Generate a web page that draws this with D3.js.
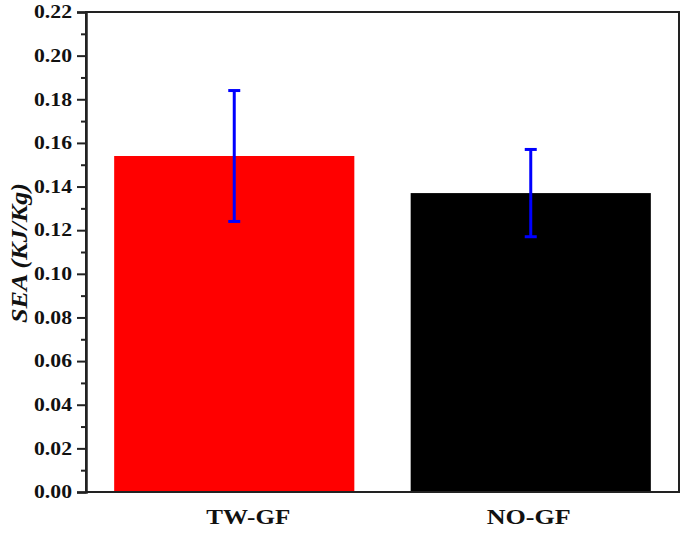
<!DOCTYPE html>
<html><head><meta charset="utf-8">
<script src="https://cdn.jsdelivr.net/npm/d3@7"></script>
<style>body{margin:0;background:#fff}svg{display:block}</style>
</head><body>
<script>
const categories = ["TW-GF", "NO-GF"];
const values = [0.154, 0.137];
const errors = [0.030, 0.020];
const barColors = ["#ff0000", "#000000"];
const yTicks = [0.00,0.02,0.04,0.06,0.08,0.10,0.12,0.14,0.16,0.18,0.20,0.22];
const yMinorTicks = [0.01,0.03,0.05,0.07,0.09,0.11,0.13,0.15,0.17,0.19,0.21];
const yTitle = "SEA (KJ/Kg)";

const W = 685, H = 537;
const m = {left: 86, top: 12, right: 6, bottom: 45};
const svg = d3.select("body").append("svg").attr("width", W).attr("height", H);
const x = d3.scaleBand().domain(categories).range([m.left, W - m.right]).paddingInner(0.19).paddingOuter(0.095);
const y = d3.scaleLinear().domain([0, 0.22]).range([H - m.bottom, m.top]);
const font = "'Liberation Serif','Times New Roman',serif";

// bars
svg.selectAll("rect.bar").data(categories).join("rect")
  .attr("x", d => x(d)).attr("width", x.bandwidth())
  .attr("y", (d,i) => y(values[i])).attr("height", (d,i) => y(0) - y(values[i]))
  .attr("fill", (d,i) => barColors[i]);

// error bars
const eb = svg.append("g").attr("stroke", "#0000ff").attr("stroke-width", 3);
categories.forEach((c,i) => {
  const cx = x(c) + x.bandwidth()/2;
  eb.append("line").attr("x1", cx).attr("x2", cx).attr("y1", y(values[i]+errors[i])).attr("y2", y(values[i]-errors[i]));
  [values[i]+errors[i], values[i]-errors[i]].forEach(v => {
    eb.append("line").attr("x1", cx-6).attr("x2", cx+6).attr("y1", y(v)).attr("y2", y(v));
  });
});

// frame
svg.append("rect").attr("x", m.left).attr("y", m.top).attr("width", W - m.right - m.left).attr("height", y(0) - m.top)
  .attr("fill", "none").attr("stroke", "#222").attr("stroke-width", 2);

// y axis
const yAxis = d3.axisLeft(y).tickValues(yTicks).tickFormat(d3.format(".2f")).tickSize(9).tickPadding(5);
const ga = svg.append("g").attr("transform", `translate(${m.left},0)`).call(yAxis);
ga.select(".domain").attr("stroke", "#222").attr("stroke-width", 2.5);
ga.selectAll(".tick line").attr("stroke", "#222").attr("stroke-width", 2);
ga.selectAll(".tick text").attr("font-family", font).attr("font-weight", "bold").attr("font-size", 18)
  .attr("fill", "#111").attr("textLength", 38).attr("lengthAdjust", "spacingAndGlyphs");
const gm = svg.append("g").attr("transform", `translate(${m.left},0)`)
  .call(d3.axisLeft(y).tickValues(yMinorTicks).tickSize(5).tickFormat(""));
gm.select(".domain").remove();
gm.selectAll(".tick line").attr("stroke", "#222").attr("stroke-width", 2);

// x labels
const xOff = [14, -2];
svg.selectAll("text.xl").data(categories).join("text")
  .attr("x", (d,i) => x(d) + x.bandwidth()/2 + xOff[i]).attr("y", 524)
  .attr("text-anchor", "middle").attr("font-family", font).attr("font-weight", "bold").attr("font-size", 20)
  .attr("fill", "#111").attr("textLength", 84).attr("lengthAdjust", "spacingAndGlyphs").text(d => d);

// y title
svg.append("text").attr("transform", `translate(27,253) rotate(-90)`)
  .attr("text-anchor", "middle").attr("font-family", font).attr("font-weight", "bold").attr("font-style", "italic")
  .attr("font-size", 24).attr("fill", "#111").attr("textLength", 140).attr("lengthAdjust", "spacingAndGlyphs").text(yTitle);
</script>
</body></html>
